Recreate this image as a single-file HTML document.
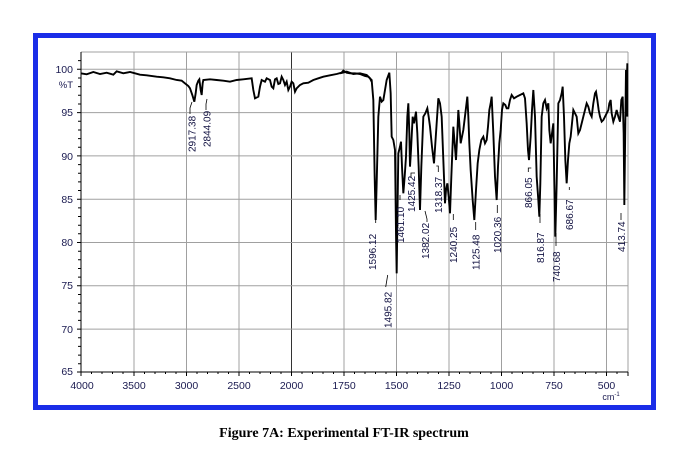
<!DOCTYPE html>
<html><head><meta charset="utf-8"><style>
html,body{margin:0;padding:0;background:#fff;width:692px;height:453px;overflow:hidden}
svg{display:block}
</style></head><body>
<svg width="692" height="453" xmlns="http://www.w3.org/2000/svg" font-family="Liberation Sans, sans-serif">
<rect x="35.5" y="35.5" width="618" height="372" fill="none" stroke="#1a2de8" stroke-width="5"/>
<g stroke="#a0a0a0" stroke-width="1">
<line x1="134" y1="52" x2="134" y2="372"/><line x1="186.5" y1="52" x2="186.5" y2="372"/><line x1="239" y1="52" x2="239" y2="372"/>
<line x1="291.5" y1="52" x2="291.5" y2="372" stroke="#333"/><line x1="344" y1="52" x2="344" y2="372"/><line x1="396.5" y1="52" x2="396.5" y2="372"/>
<line x1="449" y1="52" x2="449" y2="372"/><line x1="501.5" y1="52" x2="501.5" y2="372"/><line x1="554" y1="52" x2="554" y2="372"/><line x1="606.5" y1="52" x2="606.5" y2="372"/>
<line x1="81" y1="69.3" x2="628" y2="69.3"/><line x1="81" y1="112.6" x2="628" y2="112.6"/><line x1="81" y1="155.9" x2="628" y2="155.9"/>
<line x1="81" y1="199.2" x2="628" y2="199.2"/><line x1="81" y1="242.5" x2="628" y2="242.5"/><line x1="81" y1="285.8" x2="628" y2="285.8"/><line x1="81" y1="329.1" x2="628" y2="329.1"/>
<line x1="81" y1="52" x2="628" y2="52"/><line x1="628" y1="52" x2="628" y2="372"/>
</g>
<g stroke="#000" stroke-width="1">
<line x1="81" y1="52" x2="81" y2="372"/><line x1="81" y1="372" x2="628" y2="372"/>
<path d="M77 69.3h4M77 112.6h4M77 155.9h4M77 199.2h4M77 242.5h4M77 285.8h4M77 329.1h4M77 372h4M78 60.6h3M78 78h3M78 86.6h3M78 95.3h3M78 104h3M78 121.3h3M78 130h3M78 138.6h3M78 147.2h3M78 164.6h3M78 173.2h3M78 181.9h3M78 190.5h3M78 207.9h3M78 216.5h3M78 225.2h3M78 233.8h3M78 251.2h3M78 259.8h3M78 268.5h3M78 277.1h3M78 294.5h3M78 303.1h3M78 311.8h3M78 320.4h3M78 337.8h3M78 346.4h3M78 355.1h3M78 363.7h3"/>
<path d="M81 372v4M134 372v4M186.5 372v4M239 372v4M291.5 372v4M344 372v4M396.5 372v4M449 372v4M501.5 372v4M554 372v4M606.5 372v4M91.5 372v2M102 372v2M112.5 372v2M123 372v2M144.5 372v2M155 372v2M165.5 372v2M176 372v2M197 372v2M207.5 372v2M218 372v2M228.5 372v2M249.5 372v2M260 372v2M270.5 372v2M281 372v2M302 372v2M312.5 372v2M323 372v2M333.5 372v2M354.5 372v2M365 372v2M375.5 372v2M386 372v2M407 372v2M417.5 372v2M428 372v2M438.5 372v2M459.5 372v2M470 372v2M480.5 372v2M491 372v2M512 372v2M522.5 372v2M533 372v2M543.5 372v2M564.5 372v2M575 372v2M585.5 372v2M596 372v2M617 372v2M628 372v4"/>
</g>
<g font-size="10.5" fill="#1a1a50" text-anchor="end">
<text x="73" y="73">100</text><text x="73" y="116">95</text><text x="73" y="160">90</text><text x="73" y="203">85</text><text x="73" y="246">80</text><text x="73" y="289">75</text><text x="73" y="333">70</text><text x="73" y="375">65</text>
<text x="73" y="88" font-size="9.5">%T</text>
</g>
<g font-size="10.5" fill="#1a1a50" text-anchor="middle">
<text x="82" y="389">4000</text><text x="134" y="389">3500</text><text x="186.5" y="389">3000</text><text x="239" y="389">2500</text><text x="291.5" y="389">2000</text><text x="344" y="389">1750</text><text x="396.5" y="389">1500</text><text x="449" y="389">1250</text><text x="501.5" y="389">1000</text><text x="554" y="389">750</text><text x="606.5" y="389">500</text>
<text x="611" y="400" font-size="9">cm<tspan dy="-4" font-size="6">-1</tspan></text>
</g>
<g transform="translate(30,30) scale(0.33333)">
<polyline fill="none" stroke="#000" stroke-width="1.9" vector-effect="non-scaling-stroke" points="152,130 170,133 190,126 210,132 230,128 250,134 260,124 280,130 300,126 315,130 330,134 350,136 380,140 400,142 420,145 440,150 455,152 465,160 475,168 480,175 487,195 493,215 497,190 500,165 505,152 508,148 512,180 515,195 518,160 520,150 540,148 560,150 580,152 600,155 620,150 640,148 665,145 670,180 675,205 685,200 690,170 695,150 705,155 710,145 720,150 725,170 730,175 735,148 740,145 745,162 750,160 755,140 760,150 765,165 770,155 775,180 780,170 785,155 790,160 795,185 800,175 810,165 820,160 835,158 850,150 865,145 880,140 900,136 920,132 935,128 940,122 950,128 960,130 975,130 990,132 1005,138 1015,140 1020,145 1025,155"/>
</g>
<g transform="translate(340,50) scale(0.33333)">
<polyline fill="none" stroke="#000" stroke-width="1.9" vector-effect="non-scaling-stroke" points="0,70 20,65 40,72 60,70 80,75 95,90 100,150 104,380 107,510 110,400 115,200 120,140 125,155 130,150 140,90 148,68 152,130 155,260 160,270 165,300 168,550 170,670 173,450 175,310 180,290 183,275 186,350 190,430 194,380 198,320 202,200 205,160 208,250 210,350 213,300 218,200 222,220 228,185 232,250 236,350 240,480 244,350 250,200 256,190 262,175 266,200 270,230 276,290 282,340 288,250 295,145 300,160 305,200 310,330 315,460 318,420 322,400 326,440 330,490 334,380 340,230 344,280 348,330 352,250 355,180 358,220 362,280 366,260 370,240 376,190 382,140 385,200 388,280 392,360 398,450 403,510 408,420 413,340 418,300 424,270 430,260 435,280 440,270 444,230 448,180 452,160 455,140 460,250 465,380 470,450 474,350 478,280 482,240 486,180 490,160 496,165 500,175 505,175 510,150 515,135 522,145 530,140 540,135 550,130 555,145 560,220 564,300 567,330 572,260 576,180 580,120 585,200 590,380 595,450 598,500 601,400 605,200 610,160 615,150 620,175 625,160 628,240 632,280 636,250 640,220 643,400 646,560 650,400 655,160 660,150 665,130 668,110 672,200 676,330 680,400 684,330 688,280 692,260 696,220 700,180 705,190 710,200 715,250 720,240 725,220 730,200 735,180 740,160 745,170 750,190 755,200 760,160 765,130 768,125 772,150 776,180 780,200 785,215 790,210 795,200 800,190 805,180 808,160 812,150 815,190 820,215 825,200 830,180 835,200 840,215 844,150 848,140 851,250 853,465 855,300 858,60 860,120 862,40 862,200"/>
</g>
<g stroke="#000" stroke-width="0.8" fill="none">
<path d="M192 102 l-2 6v6M207 99 l-1 5v6M375.7 220v3M387.7 275l-2 12M400 200v-5M411 178v-5h4M425 211l2 8v3M438.3 172v-6h-2M453.3 214v6M475.7 222v8M497.3 205v8M528.3 172v-4h3M540 214v9M556 233v13M569.3 187v3M621 213v7"/>
</g>
<g font-size="10" fill="#101040">
<text transform="translate(195.5,152) rotate(-90)">2917.38</text>
<text transform="translate(210.5,147) rotate(-90)">2844.09</text>
<text transform="translate(376,270) rotate(-90)">1596.12</text>
<text transform="translate(391.5,328) rotate(-90)">1495.82</text>
<text transform="translate(403.8,243) rotate(-90)">1461.10</text>
<text transform="translate(414.8,212) rotate(-90)">1425.42</text>
<text transform="translate(428.8,259) rotate(-90)">1382.02</text>
<text transform="translate(442,213) rotate(-90)">1318.37</text>
<text transform="translate(457,263) rotate(-90)">1240.25</text>
<text transform="translate(479.5,270) rotate(-90)">1125.48</text>
<text transform="translate(501,253) rotate(-90)">1020.36</text>
<text transform="translate(532,208) rotate(-90)">866.05</text>
<text transform="translate(543.8,263) rotate(-90)">816.87</text>
<text transform="translate(559.8,282) rotate(-90)">740.68</text>
<text transform="translate(573,230) rotate(-90)">686.67</text>
<text transform="translate(624.8,252) rotate(-90)">413.74</text>
</g>
<text x="344" y="437" text-anchor="middle" font-family="Liberation Serif, serif" font-weight="bold" font-size="14">Figure 7A: Experimental FT-IR spectrum</text>
</svg>
</body></html>
